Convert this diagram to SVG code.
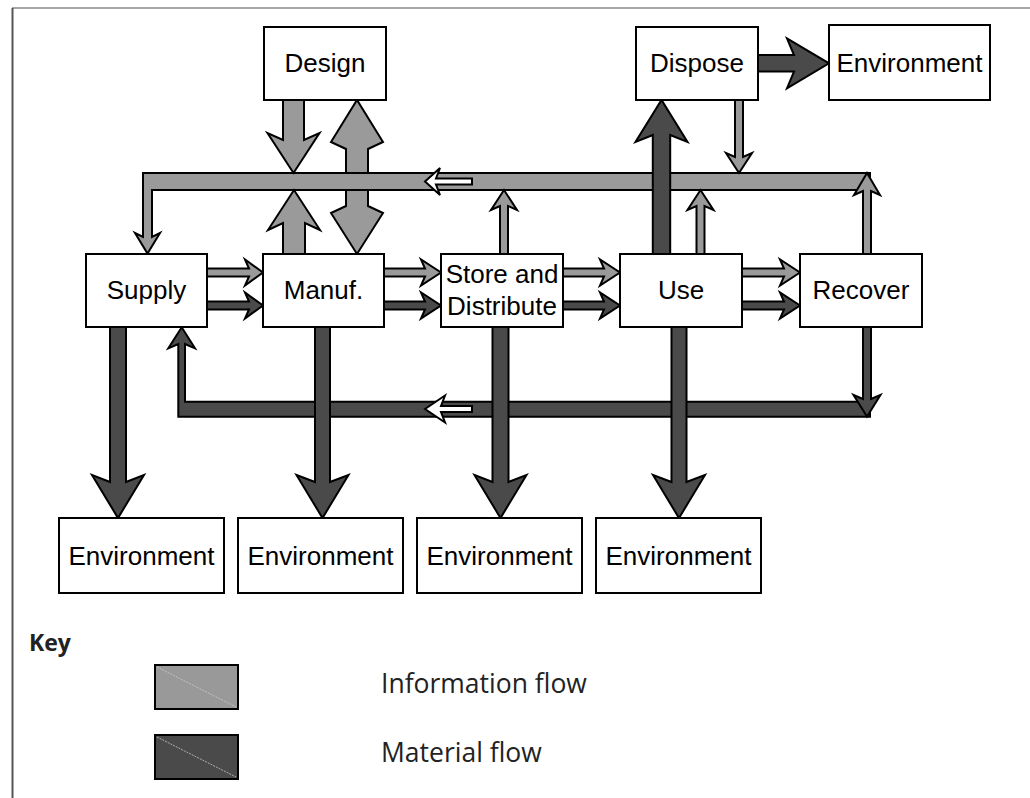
<svg xmlns="http://www.w3.org/2000/svg" width="1030" height="798" viewBox="0 0 1030 798">
<style>
.box{fill:#fff;stroke:#000;stroke-width:2}
.lbl{font-family:"Liberation Sans",Arial,sans-serif;font-size:26px;fill:#000;text-anchor:middle}
.info{fill:#9a9a9a;stroke:#000;stroke-width:2;stroke-linejoin:miter}
.mat{fill:#4a4a4a;stroke:#000;stroke-width:2;stroke-linejoin:miter}
.wht{fill:#fff;stroke:#000;stroke-width:2}
.key{font-family:"Open Sans","Noto Sans",sans-serif;fill:#222}
.diag{stroke:#c8c8c8;stroke-width:0.8;stroke-dasharray:2 1}
</style>
<rect width="1030" height="798" fill="#fff"/>
<line x1="12" y1="8" x2="1030" y2="8" stroke="#888" stroke-width="1.5"/>
<line x1="12.5" y1="8" x2="12.5" y2="798" stroke="#555" stroke-width="2"/>

<g id="connectors">
  <polygon class="info" points="346,149 346,206 331,213 357,254 383,213 368,206 368,149 383,142 357,100 331,142"/>
  <path class="info" d="M143,173 H870 V190 H152 V237 L160,233 L147.5,253.5 L135,233 L143,237 Z"/>
  <polygon class="info" points="283,100 304,100 304,140 319.5,133 293.5,173 267.5,133 283,140"/>
  <polygon class="info" points="283,254 305,254 305,223 320,230 294,190 268,230 283,223"/>
  <polygon class="info" points="735,100 743,100 743,157 752,153 739,173 726,153 735,157"/>
  <polygon class="info" points="500,254 508,254 508,206 517,210 504,190 491,210 500,206"/>
  <polygon class="info" points="696.5,254 704.5,254 704.5,206 713.5,210 700.5,190 687.5,210 696.5,206"/>
  <polygon class="info" points="863,254 871,254 871,191 880,195 867,173 854,195 863,191"/>
  <polygon class="mat" points="652.8,254 670.2,254 670.2,135 687.5,142 661.5,100 635.5,142 652.8,135"/>
  <polygon class="wht" points="425,181.5 440,168 436,178.5 472,178.5 472,184.5 436,184.5 440,195"/>
  <polygon class="mat" points="758,55 794,55 787,38.3 829,63.3 787,88.3 794,71.6 758,71.6"/>

  <polygon class="info" points="207,268.5 249,268.5 245,259.5 263,272.5 245,285.5 249,276.5 207,276.5"/>
  <polygon class="info" points="384,268.5 425,268.5 421,259.5 441,272.5 421,285.5 425,276.5 384,276.5"/>
  <polygon class="info" points="563,268.5 604,268.5 600,259.5 620,272.5 600,285.5 604,276.5 563,276.5"/>
  <polygon class="info" points="742,268.5 784,268.5 780,259.5 800,272.5 780,285.5 784,276.5 742,276.5"/>
  <polygon class="mat" points="207,301.5 249,301.5 245,292.5 263,305.5 245,318.5 249,309.5 207,309.5"/>
  <polygon class="mat" points="384,301.5 425,301.5 421,292.5 441,305.5 421,318.5 425,309.5 384,309.5"/>
  <polygon class="mat" points="563,301.5 604,301.5 600,292.5 620,305.5 600,318.5 604,309.5 563,309.5"/>
  <polygon class="mat" points="742,301.5 784,301.5 780,292.5 800,305.5 780,318.5 784,309.5 742,309.5"/>

  <path class="mat" d="M178.3,416.7 V344 L168.3,348.3 L181.7,327.3 L195,348.3 L185,344 V401.7 H870 V416.7 Z"/>
  <polygon class="wht" points="425,409 445,395.5 441,406 472,406 472,412 441,412 445,422.5"/>
  <polygon class="mat" points="863,327 871,327 871,399 880.5,395 867,416.5 853.5,395 863,399"/>
  <polygon class="mat" points="110,327 126,327 126,482 144,475 118,518 92,475 110,482"/>
  <polygon class="mat" points="315,327 330,327 330,482 348.5,475 322.5,518 296.5,475 315,482"/>
  <polygon class="mat" points="492.5,327 508.5,327 508.5,482 526.5,475 500.5,518 474.5,475 492.5,482"/>
  <polygon class="mat" points="671.5,327 686.5,327 686.5,482 705,475 679,518 653,475 671.5,482"/>
</g>

<g id="design"><rect class="box" x="264" y="27" width="122" height="73"/><text class="lbl" x="325" y="72">Design</text></g>
<g id="dispose"><rect class="box" x="636" y="27" width="122" height="73"/><text class="lbl" x="697" y="72">Dispose</text></g>
<g id="env-top"><rect class="box" x="829" y="25" width="161" height="75"/><text class="lbl" x="909.5" y="72">Environment</text></g>
<g id="supply"><rect class="box" x="86" y="254" width="121" height="73"/><text class="lbl" x="146.5" y="299">Supply</text></g>
<g id="manuf"><rect class="box" x="263" y="254" width="121" height="73"/><text class="lbl" x="323.5" y="299">Manuf.</text></g>
<g id="store"><rect class="box" x="441" y="254" width="122" height="73"/><text class="lbl" x="502" y="283">Store and</text><text class="lbl" x="502" y="315">Distribute</text></g>
<g id="use"><rect class="box" x="620" y="254" width="122" height="73"/><text class="lbl" x="681" y="299">Use</text></g>
<g id="recover"><rect class="box" x="800" y="254" width="122" height="73"/><text class="lbl" x="861" y="299">Recover</text></g>
<g id="env1"><rect class="box" x="59" y="518" width="165" height="75"/><text class="lbl" x="141.5" y="565">Environment</text></g>
<g id="env2"><rect class="box" x="238" y="518" width="165" height="75"/><text class="lbl" x="320.5" y="565">Environment</text></g>
<g id="env3"><rect class="box" x="417" y="518" width="165" height="75"/><text class="lbl" x="499.5" y="565">Environment</text></g>
<g id="env4"><rect class="box" x="596" y="518" width="165" height="75"/><text class="lbl" x="678.5" y="565">Environment</text></g>

<g id="key">
  <text class="key" x="29" y="651" font-size="23" font-weight="bold">Key</text>
  <rect x="155" y="665" width="83" height="44" fill="#999" stroke="#000" stroke-width="2"/>
  <line class="diag" x1="157" y1="667" x2="236" y2="707"/>
  <rect x="155" y="735" width="83" height="44" fill="#4a4a4a" stroke="#000" stroke-width="2"/>
  <line class="diag" x1="157" y1="737" x2="236" y2="777"/>
  <text class="key" x="381" y="693" font-size="26.5">Information flow</text>
  <text class="key" x="381" y="762" font-size="26.5">Material flow</text>
</g>
</svg>
